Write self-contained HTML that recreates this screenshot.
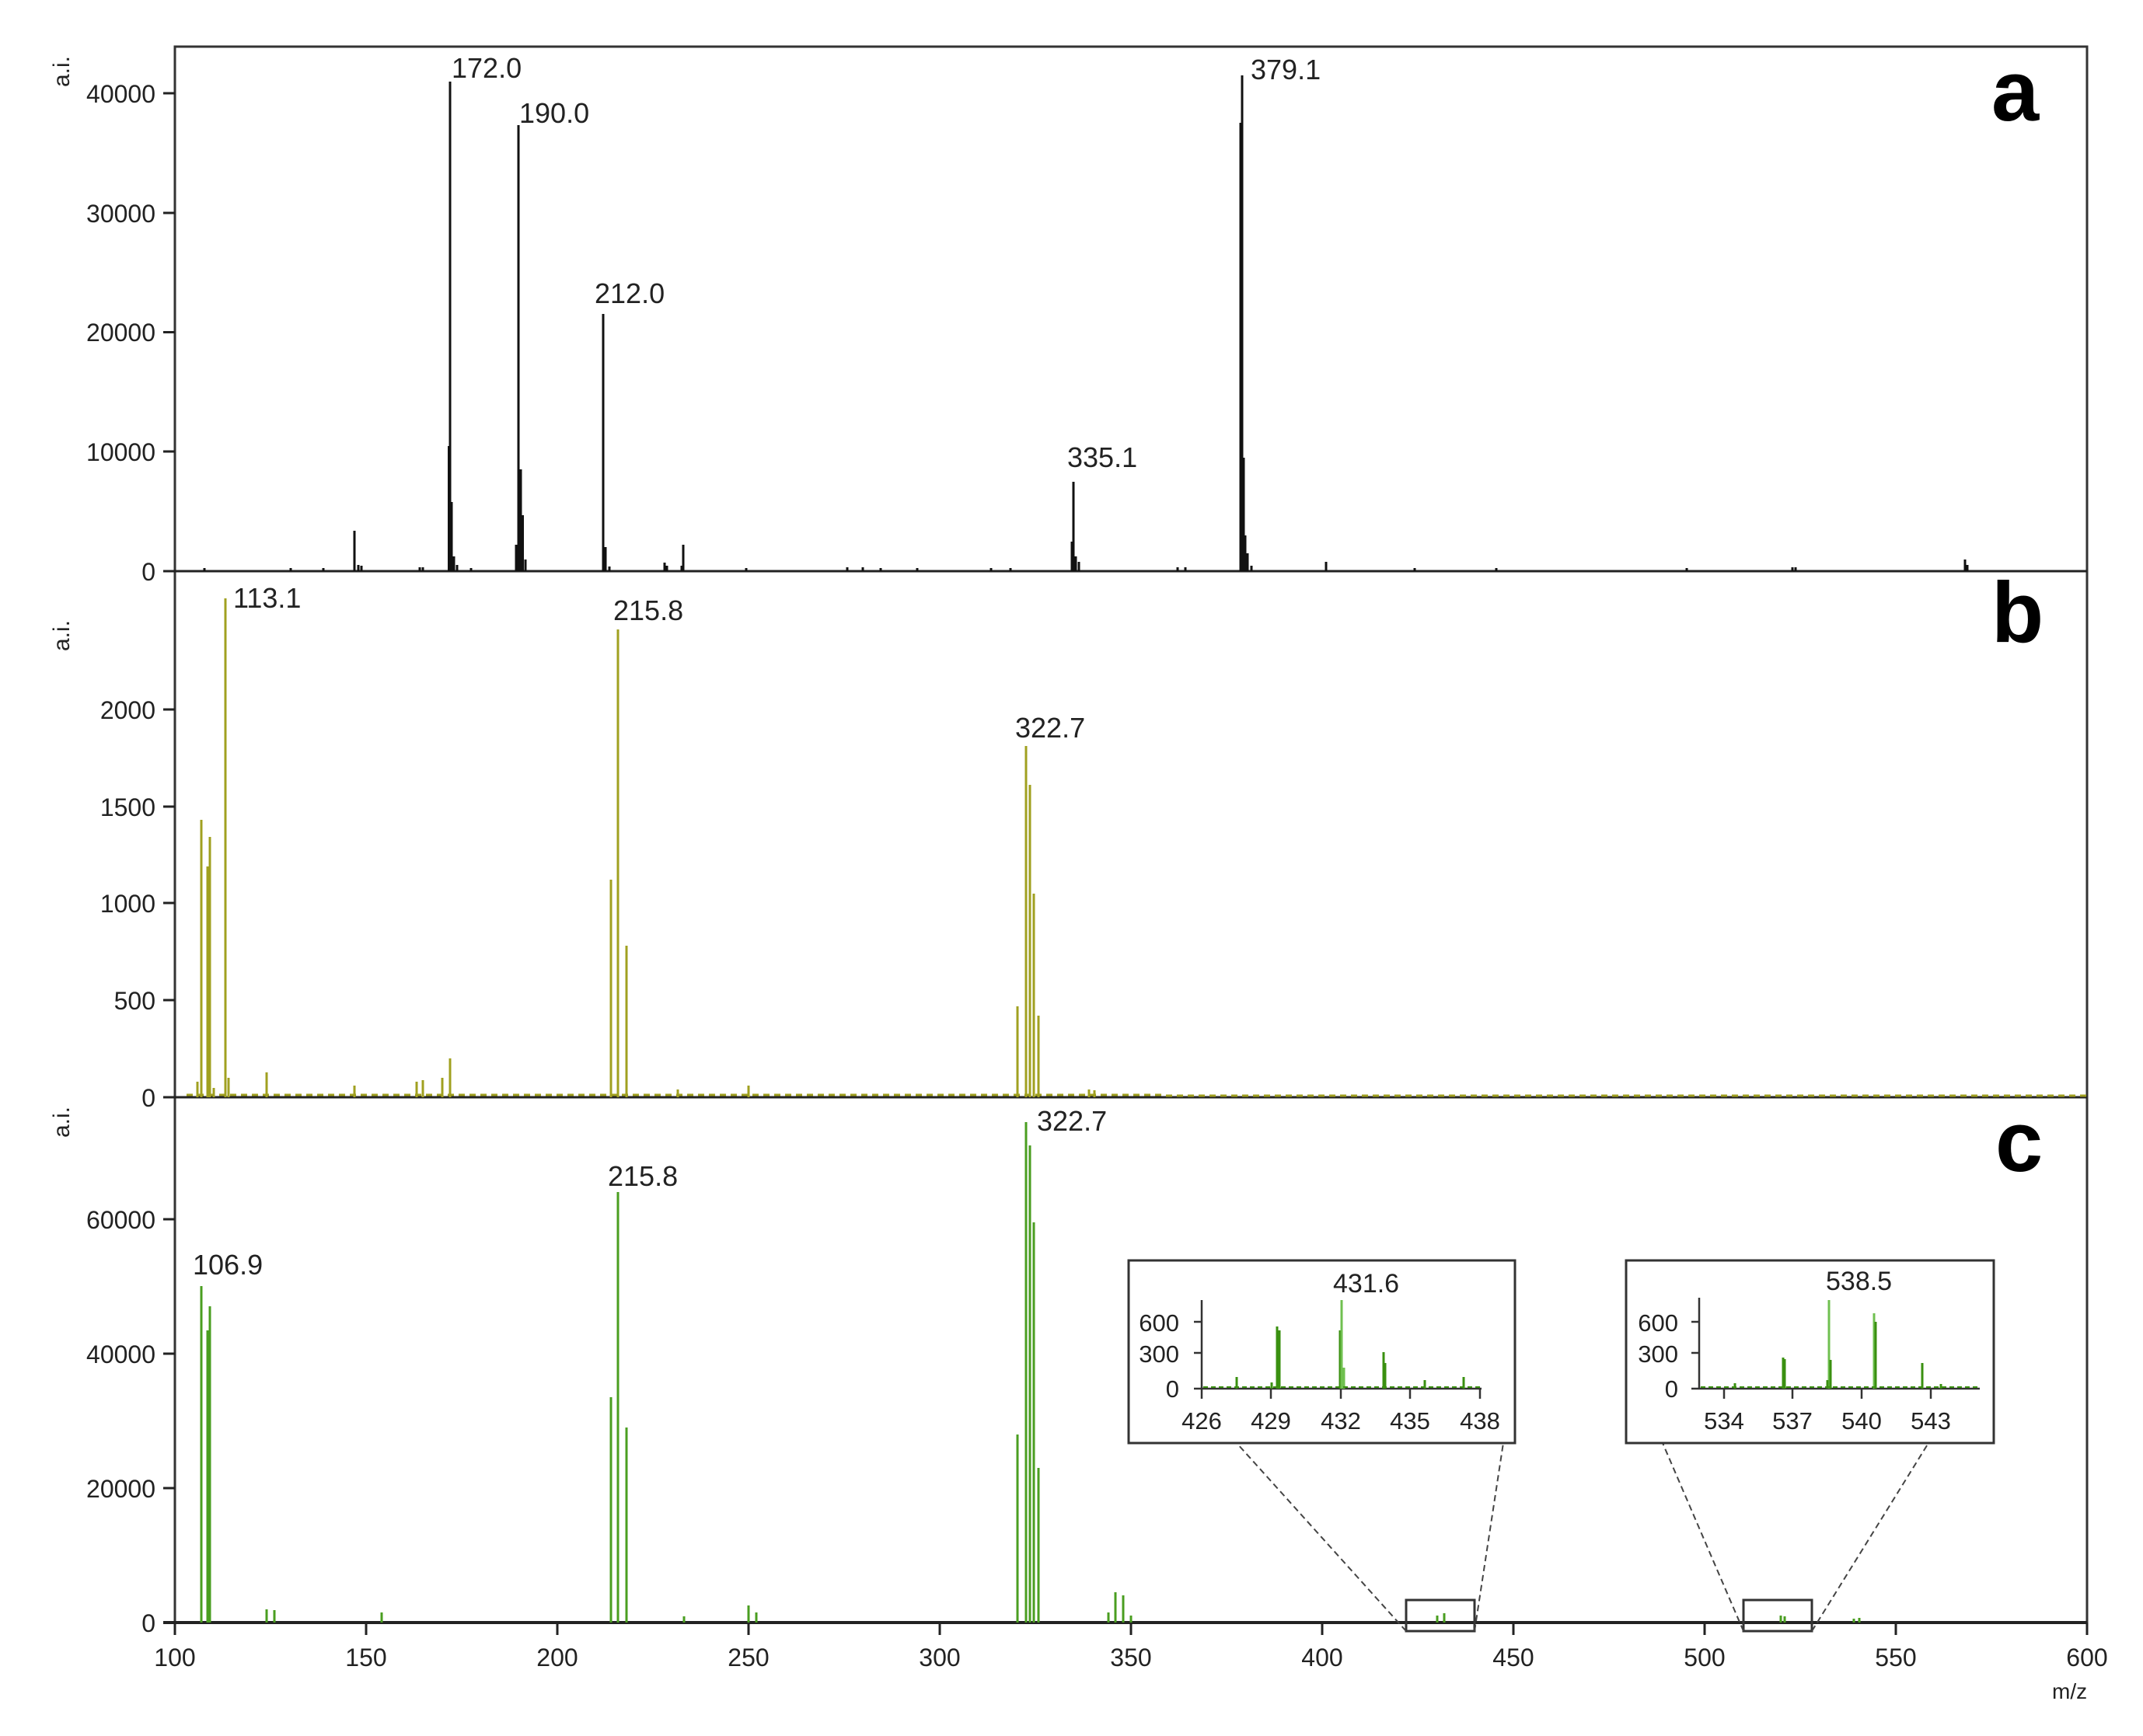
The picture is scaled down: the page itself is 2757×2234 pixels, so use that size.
<!DOCTYPE html>
<html><head><meta charset="utf-8"><style>
html,body{margin:0;padding:0;background:#fff;}
svg{display:block;}
text{font-family:"Liberation Sans",Arial,sans-serif;fill:#222;}
</style></head><body>
<svg width="2757" height="2234" viewBox="0 0 2757 2234" xmlns="http://www.w3.org/2000/svg">
<rect width="2757" height="2234" fill="#fff"/>
<rect x="225" y="60" width="2460" height="2028" fill="none" stroke="#333" stroke-width="3"/>
<line x1="210" y1="735" x2="2685" y2="735" stroke="#222" stroke-width="3"/>
<line x1="210" y1="1412" x2="2685" y2="1412" stroke="#222" stroke-width="3"/>
<line x1="210" y1="2088" x2="2685" y2="2088" stroke="#222" stroke-width="4"/>

<g stroke="#222" stroke-width="3">
<line x1="210" y1="581" x2="225" y2="581"/><line x1="210" y1="427.5" x2="225" y2="427.5"/><line x1="210" y1="274" x2="225" y2="274"/><line x1="210" y1="120" x2="225" y2="120"/>
<line x1="210" y1="1287" x2="225" y2="1287"/><line x1="210" y1="1162" x2="225" y2="1162"/><line x1="210" y1="1038" x2="225" y2="1038"/><line x1="210" y1="913" x2="225" y2="913"/>
<line x1="210" y1="1915" x2="225" y2="1915"/><line x1="210" y1="1742" x2="225" y2="1742"/><line x1="210" y1="1569" x2="225" y2="1569"/>
</g>
<g font-size="32" text-anchor="end">
<text x="200" y="747">0</text><text x="200" y="593">10000</text><text x="200" y="439">20000</text><text x="200" y="286">30000</text><text x="200" y="132">40000</text>
<text x="200" y="1424">0</text><text x="200" y="1299">500</text><text x="200" y="1174">1000</text><text x="200" y="1050">1500</text><text x="200" y="925">2000</text>
<text x="200" y="2100">0</text><text x="200" y="1927">20000</text><text x="200" y="1754">40000</text><text x="200" y="1581">60000</text>
</g>
<g font-size="30">
<text transform="translate(89,112) rotate(-90)">a.i.</text>
<text transform="translate(89,838) rotate(-90)">a.i.</text>
<text transform="translate(89,1464) rotate(-90)">a.i.</text>
</g>

<g stroke="#222" stroke-width="3">
<line x1="225" y1="2088" x2="225" y2="2104"/><line x1="471" y1="2088" x2="471" y2="2104"/><line x1="717" y1="2088" x2="717" y2="2104"/><line x1="963" y1="2088" x2="963" y2="2104"/><line x1="1209" y1="2088" x2="1209" y2="2104"/><line x1="1455" y1="2088" x2="1455" y2="2104"/><line x1="1701" y1="2088" x2="1701" y2="2104"/><line x1="1947" y1="2088" x2="1947" y2="2104"/><line x1="2193" y1="2088" x2="2193" y2="2104"/><line x1="2439" y1="2088" x2="2439" y2="2104"/><line x1="2685" y1="2088" x2="2685" y2="2104"/>
</g>
<g font-size="32" text-anchor="middle">
<text x="225" y="2144">100</text><text x="471" y="2144">150</text><text x="717" y="2144">200</text><text x="963" y="2144">250</text><text x="1209" y="2144">300</text><text x="1455" y="2144">350</text><text x="1701" y="2144">400</text><text x="1947" y="2144">450</text><text x="2193" y="2144">500</text><text x="2439" y="2144">550</text><text x="2685" y="2144">600</text>
</g>
<text x="2640" y="2186" font-size="28">m/z</text>

<g font-size="110" font-weight="bold" fill="#000">
<text x="2562" y="155" style="fill:#000">a</text>
<text x="2562" y="826" style="fill:#000">b</text>
<text x="2567" y="1507" style="fill:#000">c</text>
</g>

<g stroke="#111" stroke-width="3">
<line x1="456" y1="735" x2="456" y2="683"/><line x1="461" y1="735" x2="461" y2="727"/><line x1="465" y1="735" x2="465" y2="728"/>
<line x1="579" y1="735" x2="579" y2="105"/><line x1="578" y1="735" x2="578" y2="574" stroke-width="4"/><line x1="581" y1="735" x2="581" y2="646" stroke-width="3"/><line x1="584" y1="735" x2="584" y2="716"/><line x1="588" y1="735" x2="588" y2="727"/>
<line x1="664" y1="735" x2="664" y2="701"/><line x1="667" y1="735" x2="667" y2="161"/><line x1="670" y1="735" x2="670" y2="604"/><line x1="672" y1="735" x2="672" y2="663" stroke-width="4"/><line x1="676" y1="735" x2="676" y2="720"/>
<line x1="776" y1="735" x2="776" y2="404"/><line x1="779" y1="735" x2="779" y2="704"/><line x1="784" y1="735" x2="784" y2="729"/>
<line x1="855" y1="735" x2="855" y2="724"/><line x1="858" y1="735" x2="858" y2="728"/><line x1="879" y1="735" x2="879" y2="701"/><line x1="877" y1="735" x2="877" y2="728"/>
<line x1="1379" y1="735" x2="1379" y2="697"/><line x1="1381" y1="735" x2="1381" y2="620"/><line x1="1384" y1="735" x2="1384" y2="716"/><line x1="1388" y1="735" x2="1388" y2="723"/>
<line x1="1596" y1="735" x2="1596" y2="158"/><line x1="1598" y1="735" x2="1598" y2="97"/><line x1="1600" y1="735" x2="1600" y2="589"/><line x1="1602" y1="735" x2="1602" y2="689"/><line x1="1605" y1="735" x2="1605" y2="712"/><line x1="1610" y1="735" x2="1610" y2="728"/>
<line x1="1706" y1="735" x2="1706" y2="723"/><line x1="2306" y1="735" x2="2306" y2="730"/><line x1="2310" y1="735" x2="2310" y2="730"/><line x1="2528" y1="735" x2="2528" y2="720"/><line x1="2531" y1="735" x2="2531" y2="727"/>
<line x1="263" y1="735" x2="263" y2="731"/><line x1="374" y1="735" x2="374" y2="731"/><line x1="416" y1="735" x2="416" y2="731"/><line x1="540" y1="735" x2="540" y2="730"/><line x1="544" y1="735" x2="544" y2="730"/><line x1="606" y1="735" x2="606" y2="731"/>
<line x1="960" y1="735" x2="960" y2="731"/><line x1="1090" y1="735" x2="1090" y2="730"/><line x1="1110" y1="735" x2="1110" y2="730"/><line x1="1133" y1="735" x2="1133" y2="731"/><line x1="1180" y1="735" x2="1180" y2="731"/><line x1="1275" y1="735" x2="1275" y2="731"/><line x1="1300" y1="735" x2="1300" y2="731"/><line x1="1515" y1="735" x2="1515" y2="730"/><line x1="1525" y1="735" x2="1525" y2="730"/><line x1="1820" y1="735" x2="1820" y2="731"/><line x1="1925" y1="735" x2="1925" y2="731"/><line x1="2170" y1="735" x2="2170" y2="731"/>
</g>
<g font-size="36">
<text x="581" y="100">172.0</text><text x="668" y="158">190.0</text><text x="765" y="390">212.0</text><text x="1373" y="601">335.1</text><text x="1609" y="102">379.1</text>
</g>

<g stroke="#a0a020" stroke-width="3">
<line x1="254" y1="1412" x2="254" y2="1392"/><line x1="259" y1="1412" x2="259" y2="1055"/><line x1="267" y1="1412" x2="267" y2="1115"/><line x1="270" y1="1412" x2="270" y2="1077"/><line x1="275" y1="1412" x2="275" y2="1400"/>
<line x1="290" y1="1412" x2="290" y2="770"/><line x1="294" y1="1412" x2="294" y2="1387"/><line x1="343" y1="1412" x2="343" y2="1380"/><line x1="456" y1="1412" x2="456" y2="1397"/><line x1="536" y1="1412" x2="536" y2="1392"/><line x1="544" y1="1412" x2="544" y2="1390"/><line x1="569" y1="1412" x2="569" y2="1387"/><line x1="579" y1="1412" x2="579" y2="1362"/>
<line x1="786" y1="1412" x2="786" y2="1132"/><line x1="795" y1="1412" x2="795" y2="810"/><line x1="806" y1="1412" x2="806" y2="1217"/><line x1="872" y1="1412" x2="872" y2="1402"/><line x1="963" y1="1412" x2="963" y2="1397"/>
<line x1="1309" y1="1412" x2="1309" y2="1295"/><line x1="1320" y1="1412" x2="1320" y2="960"/><line x1="1325" y1="1412" x2="1325" y2="1010"/><line x1="1330" y1="1412" x2="1330" y2="1150"/><line x1="1336" y1="1412" x2="1336" y2="1307"/><line x1="1401" y1="1412" x2="1401" y2="1402"/><line x1="1408" y1="1412" x2="1408" y2="1403"/>
</g>
<path d="M240 1409 H1500 M1500 1410 H2685" stroke="#a0a020" stroke-width="3" stroke-dasharray="8 6"/>
<g font-size="36">
<text x="300" y="782">113.1</text><text x="789" y="798">215.8</text><text x="1306" y="949">322.7</text>
</g>

<g stroke="#4a9e20" stroke-width="3">
<line x1="259" y1="2088" x2="259" y2="1655"/><line x1="267" y1="2088" x2="267" y2="1712"/><line x1="270" y1="2088" x2="270" y2="1681"/>
<line x1="343" y1="2088" x2="343" y2="2071"/><line x1="353" y1="2088" x2="353" y2="2072"/><line x1="491" y1="2088" x2="491" y2="2075"/>
<line x1="786" y1="2088" x2="786" y2="1798"/><line x1="795" y1="2088" x2="795" y2="1534"/><line x1="806" y1="2088" x2="806" y2="1837"/>
<line x1="963" y1="2088" x2="963" y2="2066"/><line x1="973" y1="2088" x2="973" y2="2075"/><line x1="880" y1="2088" x2="880" y2="2080"/>
<line x1="1309" y1="2088" x2="1309" y2="1846"/><line x1="1320" y1="2088" x2="1320" y2="1444"/><line x1="1325" y1="2088" x2="1325" y2="1474"/><line x1="1330" y1="2088" x2="1330" y2="1573"/><line x1="1336" y1="2088" x2="1336" y2="1889"/>
<line x1="1426" y1="2088" x2="1426" y2="2075"/><line x1="1435" y1="2088" x2="1435" y2="2049"/><line x1="1445" y1="2088" x2="1445" y2="2053"/><line x1="1455" y1="2088" x2="1455" y2="2079"/>
<line x1="1849" y1="2088" x2="1849" y2="2079"/><line x1="1858" y1="2088" x2="1858" y2="2076"/><line x1="2291" y1="2088" x2="2291" y2="2079"/><line x1="2296" y1="2088" x2="2296" y2="2080"/><line x1="2385" y1="2088" x2="2385" y2="2083"/><line x1="2392" y1="2088" x2="2392" y2="2082"/>
</g>
<g font-size="36">
<text x="248" y="1640">106.9</text><text x="782" y="1526">215.8</text><text x="1334" y="1455">322.7</text>
</g>

<rect x="1809" y="2059" width="88" height="40" fill="none" stroke="#333" stroke-width="3"/>
<rect x="2243" y="2059" width="88" height="40" fill="none" stroke="#333" stroke-width="3"/>
<g stroke="#444" stroke-width="2" stroke-dasharray="8 5">
<line x1="1809" y1="2099" x2="1591" y2="1857"/><line x1="1897" y1="2099" x2="1934" y2="1857"/>
<line x1="2243" y1="2099" x2="2139" y2="1857"/><line x1="2331" y1="2099" x2="2481" y2="1857"/>
</g>

<rect x="1452" y="1622" width="497" height="235" fill="#fff" stroke="#333" stroke-width="3"/>
<g stroke="#333" stroke-width="2.5">
<line x1="1546" y1="1673" x2="1546" y2="1787"/><line x1="1536" y1="1787" x2="1906" y2="1787"/>
<line x1="1536" y1="1701" x2="1546" y2="1701"/><line x1="1536" y1="1741" x2="1546" y2="1741"/>
<line x1="1546" y1="1787" x2="1546" y2="1800"/><line x1="1635" y1="1787" x2="1635" y2="1800"/><line x1="1725" y1="1787" x2="1725" y2="1800"/><line x1="1814" y1="1787" x2="1814" y2="1800"/><line x1="1904" y1="1787" x2="1904" y2="1800"/>
</g>
<g stroke="#3a9010" stroke-width="3">
<line x1="1591" y1="1787" x2="1591" y2="1772"/><line x1="1643" y1="1787" x2="1643" y2="1707"/><line x1="1646" y1="1787" x2="1646" y2="1712"/><line x1="1724" y1="1787" x2="1724" y2="1712"/><line x1="1726" y1="1787" x2="1726" y2="1673" stroke="#70c050"/><line x1="1729" y1="1787" x2="1729" y2="1760" stroke="#70c050"/><line x1="1780" y1="1787" x2="1780" y2="1740"/><line x1="1782" y1="1787" x2="1782" y2="1754"/><line x1="1833" y1="1787" x2="1833" y2="1776"/><line x1="1883" y1="1787" x2="1883" y2="1772"/><line x1="1636" y1="1787" x2="1636" y2="1779"/>
</g>
<line x1="1548" y1="1785" x2="1904" y2="1785" stroke="#3a9010" stroke-width="2" stroke-dasharray="6 4"/>
<g font-size="31">
<g text-anchor="end"><text x="1517" y="1713">600</text><text x="1517" y="1753">300</text><text x="1517" y="1798">0</text></g>
<g text-anchor="middle"><text x="1546" y="1839">426</text><text x="1635" y="1839">429</text><text x="1725" y="1839">432</text><text x="1814" y="1839">435</text><text x="1904" y="1839">438</text></g>
<text x="1715" y="1663" font-size="34">431.6</text>
</g>

<rect x="2092" y="1622" width="473" height="235" fill="#fff" stroke="#333" stroke-width="3"/>
<g stroke="#333" stroke-width="2.5">
<line x1="2186" y1="1670" x2="2186" y2="1787"/><line x1="2176" y1="1787" x2="2547" y2="1787"/>
<line x1="2176" y1="1701" x2="2186" y2="1701"/><line x1="2176" y1="1741" x2="2186" y2="1741"/>
<line x1="2218" y1="1787" x2="2218" y2="1800"/><line x1="2306" y1="1787" x2="2306" y2="1800"/><line x1="2395" y1="1787" x2="2395" y2="1800"/><line x1="2484" y1="1787" x2="2484" y2="1800"/>
</g>
<g stroke="#3a9010" stroke-width="3">
<line x1="2232" y1="1787" x2="2232" y2="1780"/><line x1="2294" y1="1787" x2="2294" y2="1747"/><line x1="2296" y1="1787" x2="2296" y2="1749"/><line x1="2353" y1="1787" x2="2353" y2="1673" stroke="#70c050"/><line x1="2355" y1="1787" x2="2355" y2="1750"/><line x1="2351" y1="1787" x2="2351" y2="1776"/><line x1="2411" y1="1787" x2="2411" y2="1690" stroke="#70c050"/><line x1="2413" y1="1787" x2="2413" y2="1701"/><line x1="2473" y1="1787" x2="2473" y2="1754"/><line x1="2497" y1="1787" x2="2497" y2="1781"/>
</g>
<line x1="2188" y1="1785" x2="2545" y2="1785" stroke="#3a9010" stroke-width="2" stroke-dasharray="6 4"/>
<g font-size="31">
<g text-anchor="end"><text x="2159" y="1713">600</text><text x="2159" y="1753">300</text><text x="2159" y="1798">0</text></g>
<g text-anchor="middle"><text x="2218" y="1839">534</text><text x="2306" y="1839">537</text><text x="2395" y="1839">540</text><text x="2484" y="1839">543</text></g>
<text x="2349" y="1660" font-size="34">538.5</text>
</g>
</svg>
</body></html>
